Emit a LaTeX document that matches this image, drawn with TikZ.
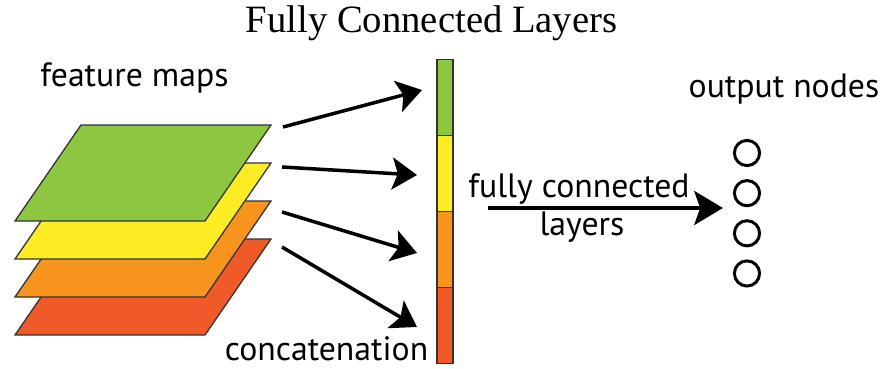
\documentclass[tikz,border=0pt]{standalone}
\usepackage{fontspec}
\setmainfont{PT Sans}
\newfontfamily\titlefont{Liberation Serif}
\usepackage{tikz}
\usetikzlibrary{arrows.meta, positioning}

\definecolor{mapgreen}{RGB}{141,198,63}
\definecolor{mapyellow}{RGB}{252,236,36}
\definecolor{maporange}{RGB}{247,148,30}
\definecolor{mapred}{RGB}{240,90,40}

\begin{document}
\begin{tikzpicture}[
    layer/.style={draw=black!80, line width=0.9pt},
    seg/.style={draw=black!80, line width=0.9pt, minimum width=0.4cm, minimum height=1.9cm, inner sep=0pt, outer sep=0pt},
    flow/.style={-{Stealth[length=0.62cm, width=0.8cm, inset=0.14cm]}, line width=2.5pt},
    outnode/.style={draw, circle, line width=2.1pt, minimum size=0.63cm, inner sep=0pt},
    lbl/.style={font=\fontsize{24}{28}\selectfont, anchor=base, inner sep=0pt}
]
    \useasboundingbox (0,0) rectangle (22.125,9.2);

    % stacked feature maps
    \foreach \col/\i in {mapred/0, maporange/1, mapyellow/2, mapgreen/3}
        \filldraw[layer, fill=\col] (0.375,0.825+0.95*\i) -- ++(4.75,0) -- ++(1.65,2.4) -- ++(-4.75,0) -- cycle;

    % concatenated vector
    \node[seg, fill=mapgreen] (s1) at (11.125,6.7625) {};
    \node[seg, fill=mapyellow, below=0pt of s1] (s2) {};
    \node[seg, fill=maporange, below=0pt of s2] (s3) {};
    \node[seg, fill=mapred, below=0pt of s3] (s4) {};

    % output nodes
    \node[outnode] (o1) at (18.675,5.375) {};
    \node[outnode, below=0.3cm of o1] (o2) {};
    \node[outnode, below=0.3cm of o2] (o3) {};
    \node[outnode, below=0.3cm of o3] (o4) {};

    \coordinate (m1) at (7.075,6.025);
    \coordinate (m2) at (7.05,5.025);
    \coordinate (m3) at (7.05,3.9);
    \coordinate (m4) at (7.05,3.025);
    \coordinate (v1) at (10.55,6.95);
    \coordinate (v2) at (10.425,4.825);
    \coordinate (v3) at (10.425,2.875);
    \coordinate (v4) at (10.425,1.025);
    \foreach \i in {1,...,4}
        \draw[flow] (m\i) -- (v\i);

    \coordinate (fcA) at (12.2,4.0);
    \coordinate (fcB) at (18.075,4.0);
    \draw[flow, -{Stealth[length=0.72cm, width=0.85cm, inset=0.15cm]}] (fcA) -- (fcB);

    \node[font=\fontsize{27.5}{32}\selectfont\titlefont, anchor=base, inner sep=0pt] (title) at (10.79,8.375) {Fully Connected Layers};
    \node[lbl] (maps) at (3.3625,7.025) {feature maps};
    \node[lbl] (concat) at (8.1625,0.2) {concatenation};
    \node[lbl] (fc1) at (14.475,4.275) {fully connected};
    \node[lbl] (fc2) at (14.55,3.325) {layers};
    \node[lbl] (outlbl) at (19.6,6.775) {output nodes};
\end{tikzpicture}
\end{document}
